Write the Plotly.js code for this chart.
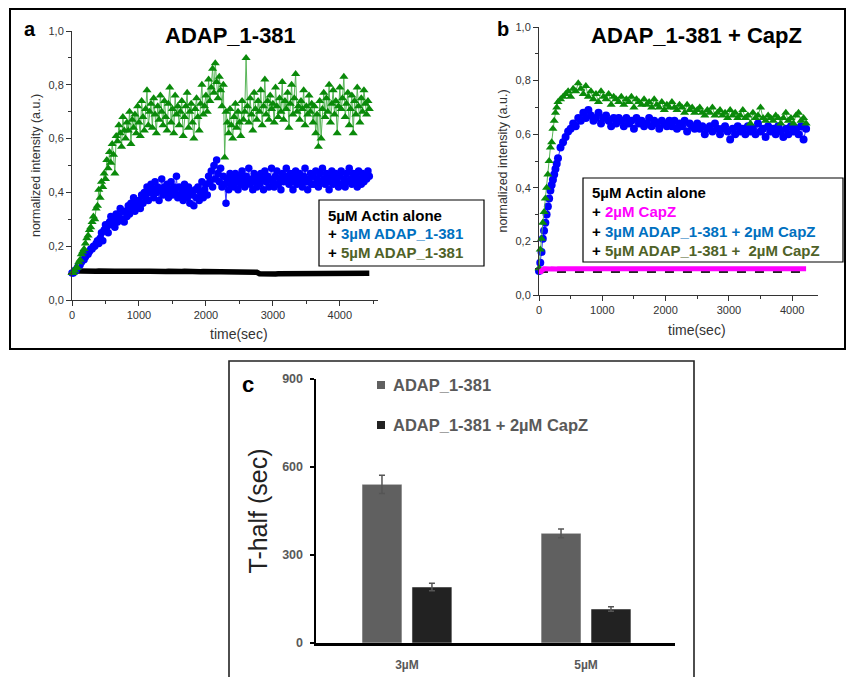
<!DOCTYPE html>
<html>
<head>
<meta charset="utf-8">
<script src="https://cdn.plot.ly/plotly-3.0.1.min.js"></script>
<style>html,body{margin:0;padding:0;background:#fff}#chart{width:847px;height:677px}</style>
</head>
<body>
<div id="chart"></div>
<script>
// ---------- Panel a data (time in seconds) ----------
const timeActinA = [
  0,40,80,120,160,200,240,280,320,360,
  400,440,480,520,560,600,640,680,720,760,
  800,840,880,920,960,1000,1040,1080,1120,1160,
  1200,1240,1280,1320,1360,1400,1440,1480,1520,1560,
  1600,1640,1680,1720,1760,1800,1840,1880,1920,1960,
  2000,2040,2080,2120,2160,2200,2240,2280,2320,2360,
  2400,2440,2480,2520,2560,2600,2640,2680,2720,2760,
  2800,2840,2880,2920,2960,3000,3040,3080,3120,3160,
  3200,3240,3280,3320,3360,3400,3440,3480,3520,3560,
  3600,3640,3680,3720,3760,3800,3840,3880,3920,3960,
  4000,4040,4080,4120,4160,4200,4240,4280,4320,4360,
  4400,4440];
const actinAloneA = [
  0.100,0.106,0.108,0.108,0.107,0.108,0.107,0.108,0.108,0.107,
  0.108,0.107,0.108,0.107,0.107,0.108,0.107,0.107,0.108,0.107,
  0.107,0.108,0.107,0.107,0.106,0.107,0.107,0.106,0.107,0.107,
  0.106,0.107,0.106,0.107,0.106,0.106,0.107,0.106,0.106,0.107,
  0.106,0.106,0.107,0.106,0.106,0.105,0.106,0.106,0.105,0.106,
  0.106,0.105,0.106,0.105,0.106,0.105,0.106,0.105,0.105,0.106,
  0.106,0.106,0.105,0.106,0.105,0.106,0.105,0.105,0.104,0.103,
  0.098,0.097,0.098,0.097,0.098,0.098,0.097,0.098,0.098,0.097,
  0.098,0.097,0.098,0.098,0.097,0.098,0.098,0.097,0.098,0.098,
  0.097,0.098,0.098,0.097,0.098,0.098,0.099,0.098,0.098,0.099,
  0.098,0.099,0.098,0.099,0.099,0.098,0.099,0.099,0.100,0.099,
  0.100,0.099];
const timeA = [
  0,20,40,60,80,100,120,140,160,180,
  200,220,240,260,280,300,320,340,360,380,
  400,420,440,460,480,500,520,540,560,580,
  600,620,640,660,680,700,720,740,760,780,
  800,820,840,860,880,900,920,940,960,980,
  1000,1020,1040,1060,1080,1100,1120,1140,1160,1180,
  1200,1220,1240,1260,1280,1300,1320,1340,1360,1380,
  1400,1420,1440,1460,1480,1500,1520,1540,1560,1580,
  1600,1620,1640,1660,1680,1700,1720,1740,1760,1780,
  1800,1820,1840,1860,1880,1900,1920,1940,1960,1980,
  2000,2020,2040,2060,2080,2100,2120,2140,2160,2180,
  2200,2220,2240,2260,2280,2300,2320,2340,2360,2380,
  2400,2420,2440,2460,2480,2500,2520,2540,2560,2580,
  2600,2620,2640,2660,2680,2700,2720,2740,2760,2780,
  2800,2820,2840,2860,2880,2900,2920,2940,2960,2980,
  3000,3020,3040,3060,3080,3100,3120,3140,3160,3180,
  3200,3220,3240,3260,3280,3300,3320,3340,3360,3380,
  3400,3420,3440,3460,3480,3500,3520,3540,3560,3580,
  3600,3620,3640,3660,3680,3700,3720,3740,3760,3780,
  3800,3820,3840,3860,3880,3900,3920,3940,3960,3980,
  4000,4020,4040,4060,4080,4100,4120,4140,4160,4180,
  4200,4220,4240,4260,4280,4300,4320,4340,4360,4380,
  4400,4420,4440];
const adap3A = [
  0.10,0.10,0.11,0.11,0.12,0.13,0.13,0.14,0.15,0.15,
  0.16,0.17,0.17,0.18,0.19,0.19,0.20,0.20,0.21,0.22,
  0.21,0.23,0.25,0.22,0.26,0.28,0.27,0.25,0.29,0.31,
  0.28,0.30,0.27,0.32,0.29,0.31,0.34,0.30,0.33,0.29,
  0.33,0.31,0.35,0.32,0.36,0.34,0.38,0.33,0.36,0.35,
  0.37,0.34,0.39,0.36,0.40,0.38,0.42,0.37,0.40,0.43,
  0.41,0.38,0.44,0.40,0.42,0.37,0.41,0.45,0.39,0.42,
  0.40,0.43,0.38,0.41,0.44,0.39,0.42,0.40,0.46,0.38,
  0.42,0.39,0.41,0.37,0.43,0.40,0.38,0.42,0.36,0.40,
  0.39,0.35,0.41,0.38,0.42,0.37,0.40,0.44,0.38,0.41,
  0.43,0.39,0.46,0.44,0.48,0.42,0.50,0.45,0.52,0.47,
  0.44,0.49,0.42,0.46,0.43,0.36,0.45,0.41,0.47,0.43,
  0.45,0.42,0.47,0.44,0.41,0.46,0.43,0.48,0.45,0.42,
  0.46,0.44,0.49,0.43,0.45,0.41,0.47,0.44,0.42,0.46,
  0.43,0.47,0.45,0.41,0.48,0.44,0.46,0.42,0.45,0.49,
  0.44,0.42,0.46,0.48,0.43,0.45,0.41,0.47,0.44,0.46,
  0.49,0.45,0.43,0.47,0.44,0.41,0.46,0.48,0.43,0.45,
  0.47,0.44,0.42,0.46,0.49,0.44,0.41,0.45,0.47,0.43,
  0.46,0.43,0.48,0.45,0.42,0.47,0.44,0.49,0.45,0.43,
  0.47,0.44,0.41,0.46,0.48,0.43,0.45,0.47,0.44,0.42,
  0.46,0.48,0.43,0.45,0.42,0.47,0.44,0.49,0.45,0.43,
  0.47,0.44,0.46,0.42,0.48,0.45,0.43,0.47,0.44,0.46,
  0.45,0.48,0.46];
const adap5A = [
  0.10,0.10,0.11,0.12,0.12,0.14,0.15,0.17,0.18,0.19,
  0.21,0.23,0.24,0.26,0.27,0.29,0.31,0.30,0.34,0.35,
  0.41,0.38,0.44,0.42,0.47,0.45,0.52,0.49,0.55,0.51,
  0.58,0.54,0.47,0.61,0.59,0.65,0.62,0.57,0.68,0.63,
  0.60,0.66,0.63,0.70,0.58,0.67,0.64,0.69,0.62,0.72,
  0.66,0.61,0.74,0.68,0.63,0.71,0.78,0.65,0.70,0.73,
  0.64,0.75,0.69,0.62,0.72,0.67,0.76,0.70,0.65,0.74,
  0.68,0.63,0.73,0.79,0.66,0.71,0.62,0.76,0.69,0.72,
  0.65,0.70,0.74,0.61,0.68,0.72,0.77,0.64,0.70,0.73,
  0.66,0.60,0.71,0.75,0.68,0.63,0.73,0.80,0.69,0.72,
  0.76,0.70,0.82,0.74,0.79,0.86,0.77,0.88,0.81,0.75,
  0.83,0.78,0.72,0.80,0.53,0.70,0.66,0.62,0.71,0.65,
  0.60,0.68,0.73,0.64,0.70,0.66,0.61,0.74,0.67,0.70,
  0.90,0.72,0.66,0.75,0.69,0.63,0.77,0.71,0.67,0.74,
  0.70,0.78,0.65,0.72,0.82,0.69,0.74,0.67,0.76,0.71,
  0.73,0.66,0.79,0.72,0.68,0.75,0.70,0.81,0.67,0.74,
  0.71,0.77,0.64,0.73,0.80,0.69,0.75,0.84,0.70,0.72,
  0.67,0.74,0.71,0.78,0.65,0.72,0.69,0.76,0.70,0.73,
  0.66,0.72,0.62,0.69,0.57,0.74,0.60,0.71,0.77,0.68,
  0.75,0.70,0.80,0.66,0.73,0.78,0.69,0.74,0.62,0.72,
  0.79,0.71,0.75,0.83,0.68,0.73,0.77,0.65,0.71,0.76,
  0.62,0.74,0.69,0.79,0.72,0.66,0.75,0.70,0.78,0.73,
  0.69,0.74,0.71];

// ---------- Panel b data ----------
const timeB = [
  0,20,40,60,80,100,120,140,160,180,
  200,220,240,260,280,300,340,380,420,460,
  500,540,580,620,660,700,740,780,820,860,
  900,940,980,1020,1060,1100,1140,1180,1220,1260,
  1300,1340,1380,1420,1460,1500,1540,1580,1620,1660,
  1700,1740,1780,1820,1860,1900,1940,1980,2020,2060,
  2100,2140,2180,2220,2260,2300,2340,2380,2420,2460,
  2500,2540,2580,2620,2660,2700,2740,2780,2820,2860,
  2900,2940,2980,3020,3060,3100,3140,3180,3220,3260,
  3300,3340,3380,3420,3460,3500,3540,3580,3620,3660,
  3700,3740,3780,3820,3860,3900,3940,3980,4020,4060,
  4100,4140,4180,4220];
const actinAloneB = [
  0.088,0.087,0.088,0.087,0.088,0.088,0.087,0.088,0.088,0.087,
  0.088,0.087,0.088,0.088,0.087,0.088,0.088,0.087,0.088,0.088,
  0.087,0.088,0.088,0.087,0.088,0.088,0.087,0.088,0.088,0.087,
  0.088,0.087,0.088,0.088,0.087,0.088,0.088,0.087,0.088,0.088,
  0.087,0.088,0.088,0.087,0.088,0.088,0.087,0.088,0.088,0.087,
  0.088,0.087,0.088,0.088,0.087,0.088,0.088,0.087,0.088,0.088,
  0.087,0.088,0.088,0.087,0.088,0.088,0.087,0.088,0.088,0.087,
  0.088,0.087,0.088,0.088,0.087,0.088,0.088,0.087,0.088,0.088,
  0.087,0.088,0.088,0.087,0.088,0.088,0.087,0.088,0.088,0.087,
  0.088,0.087,0.088,0.088,0.087,0.088,0.088,0.087,0.088,0.088,
  0.087,0.088,0.088,0.087,0.088,0.088,0.087,0.088,0.088,0.087,
  0.088,0.087,0.088,0.088];
const capzB = [
  0.095,0.082,0.090,0.096,0.098,0.098,0.097,0.098,0.098,0.097,
  0.098,0.097,0.098,0.098,0.097,0.098,0.098,0.097,0.098,0.098,
  0.097,0.098,0.098,0.097,0.098,0.098,0.097,0.098,0.098,0.097,
  0.098,0.097,0.098,0.098,0.097,0.098,0.098,0.097,0.098,0.098,
  0.097,0.098,0.098,0.097,0.098,0.098,0.097,0.098,0.098,0.097,
  0.098,0.097,0.098,0.098,0.097,0.098,0.098,0.097,0.098,0.098,
  0.097,0.098,0.098,0.097,0.098,0.098,0.097,0.098,0.098,0.097,
  0.098,0.097,0.098,0.098,0.097,0.098,0.098,0.097,0.098,0.098,
  0.097,0.098,0.098,0.097,0.098,0.098,0.097,0.098,0.098,0.097,
  0.098,0.097,0.098,0.098,0.097,0.098,0.098,0.097,0.098,0.098,
  0.097,0.098,0.098,0.097,0.098,0.098,0.097,0.098,0.098,0.097,
  0.098,0.097,0.098,0.098];
const adap3CapzB = [
  0.09,0.12,0.16,0.21,0.24,0.27,0.30,0.33,0.36,0.39,
  0.41,0.43,0.45,0.47,0.49,0.51,0.55,0.57,0.59,0.61,
  0.62,0.64,0.63,0.66,0.65,0.68,0.66,0.69,0.67,0.65,
  0.66,0.68,0.64,0.66,0.67,0.65,0.63,0.66,0.64,0.66,
  0.65,0.63,0.66,0.64,0.65,0.62,0.66,0.64,0.65,0.63,
  0.64,0.66,0.63,0.65,0.64,0.62,0.65,0.64,0.63,0.65,
  0.63,0.65,0.62,0.64,0.63,0.65,0.61,0.64,0.63,0.62,
  0.64,0.62,0.63,0.60,0.62,0.63,0.61,0.64,0.62,0.60,
  0.62,0.63,0.61,0.58,0.62,0.60,0.63,0.61,0.62,0.60,
  0.63,0.61,0.62,0.60,0.64,0.61,0.62,0.59,0.63,0.61,
  0.62,0.60,0.63,0.61,0.59,0.62,0.60,0.63,0.61,0.62,
  0.60,0.63,0.58,0.62];
const adap5CapzB = [
  0.10,0.17,0.21,0.27,0.31,0.36,0.40,0.45,0.50,0.55,
  0.57,0.62,0.65,0.68,0.70,0.72,0.73,0.74,0.75,0.76,
  0.74,0.77,0.76,0.79,0.77,0.75,0.78,0.74,0.76,0.73,
  0.75,0.72,0.76,0.74,0.73,0.75,0.71,0.74,0.73,0.72,
  0.74,0.71,0.73,0.72,0.74,0.70,0.73,0.72,0.71,0.73,
  0.71,0.72,0.70,0.73,0.71,0.70,0.72,0.69,0.71,0.70,
  0.72,0.70,0.69,0.71,0.70,0.68,0.71,0.69,0.70,0.68,
  0.69,0.70,0.68,0.67,0.69,0.68,0.70,0.67,0.68,0.69,
  0.67,0.68,0.66,0.69,0.67,0.68,0.66,0.67,0.69,0.66,
  0.67,0.64,0.68,0.66,0.67,0.70,0.66,0.65,0.67,0.66,
  0.65,0.67,0.66,0.64,0.66,0.68,0.65,0.66,0.64,0.67,
  0.68,0.65,0.66,0.64];

// ---------- Panel c data ----------
const concCategories = ['3µM','5µM'];
const thalfAdap = [541, 374];
const thalfAdapErr = [31, 15];
const thalfAdapCapz = [191, 116];
const thalfAdapCapzErr = [13, 8];

// ---------- Tick labels ----------
const timeTickVals = [0,1000,2000,3000,4000];
const timeTickText = ['0','1000','2000','3000','4000'];
const intTickVals = [0,0.2,0.4,0.6,0.8,1.0];
const intTickText = ['0,0','0,2','0,4','0,6','0,8','1,0'];
const thalfTickVals = [0,300,600,900];
const thalfTickText = ['0','300','600','900'];

// ---------- helpers for pixel placement ----------
const W = 847, H = 677;
const X = p => p / W;
const Y = p => 1 - p / H;
const FONT = 'Arial, "Liberation Sans", sans-serif';

const traces = [
  {x: timeActinA, y: actinAloneA, xaxis:'x', yaxis:'y', mode:'lines', line:{color:'#000', width:5.5}, cliponaxis:false},
  {x: timeA, y: adap3A, xaxis:'x', yaxis:'y', mode:'lines+markers',
   line:{color:'#3a3aff', width:1}, marker:{symbol:'circle', size:7.5, color:'#0000ff'}, cliponaxis:false},
  {x: timeA, y: adap5A, xaxis:'x', yaxis:'y', mode:'lines+markers',
   line:{color:'#59b559', width:1}, marker:{symbol:'triangle-up', size:8, color:'#0a8a0a'}, cliponaxis:false},

  {x: timeB, y: actinAloneB, xaxis:'x2', yaxis:'y2', mode:'lines', line:{color:'#222', width:3, dash:'dash'}, cliponaxis:false},
  {x: timeB, y: adap3CapzB, xaxis:'x2', yaxis:'y2', mode:'lines+markers',
   line:{color:'#3a3aff', width:1}, marker:{symbol:'circle', size:8, color:'#0000ff'}, cliponaxis:false},
  {x: timeB, y: adap5CapzB, xaxis:'x2', yaxis:'y2', mode:'lines+markers',
   line:{color:'#59b559', width:1}, marker:{symbol:'triangle-up', size:8, color:'#0a8a0a'}, cliponaxis:false},
  {x: timeB, y: capzB, xaxis:'x2', yaxis:'y2', mode:'lines', line:{color:'#ff00ff', width:5}, cliponaxis:false},

  {type:'bar', x: concCategories, y: thalfAdap, xaxis:'x3', yaxis:'y3', width:0.223, offset:-0.251,
   marker:{color:'#606060', line:{color:'#ffffff', width:0.5}},
   error_y:{type:'data', array: thalfAdapErr, visible:true, color:'#555', thickness:1.5, width:3}},
  {type:'bar', x: concCategories, y: thalfAdapCapz, xaxis:'x3', yaxis:'y3', width:0.223, offset:0.028,
   marker:{color:'#222222', line:{color:'#ffffff', width:0.5}},
   error_y:{type:'data', array: thalfAdapCapzErr, visible:true, color:'#555', thickness:1.5, width:3}}
];

const tsAxis = {
  showline:true, linecolor:'#333', linewidth:1, ticks:'outside', ticklen:5, tickwidth:1, tickcolor:'#333',
  showgrid:false, zeroline:false, tickfont:{family:FONT, size:11, color:'#333'}
};

const layout = {
  width:W, height:H, margin:{l:0,r:0,t:0,b:0}, paper_bgcolor:'#fff', plot_bgcolor:'rgba(0,0,0,0)',
  showlegend:false, barmode:'overlay', font:{family:FONT},
  xaxis: Object.assign({}, tsAxis, {domain:[X(72), X(378)], range:[0,4570], anchor:'y',
    tickmode:'array', tickvals:timeTickVals, ticktext:timeTickText,
    minor:{tickmode:'linear', tick0:0, dtick:500, ticks:'outside', ticklen:3, tickcolor:'#333'}}),
  yaxis: Object.assign({}, tsAxis, {domain:[Y(300), Y(31)], range:[0,1], anchor:'x',
    tickmode:'array', tickvals:intTickVals, ticktext:intTickText,
    minor:{tickmode:'linear', tick0:0, dtick:0.1, ticks:'outside', ticklen:3, tickcolor:'#333'},
    title:{text:'normalized intensity (a.u.)', font:{family:FONT, size:12.5, color:'#333'}, standoff:5}}),
  xaxis2: Object.assign({}, tsAxis, {domain:[X(539), X(818)], range:[0,4408], anchor:'y2',
    tickmode:'array', tickvals:timeTickVals, ticktext:timeTickText,
    minor:{tickmode:'linear', tick0:0, dtick:500, ticks:'outside', ticklen:3, tickcolor:'#333'}}),
  yaxis2: Object.assign({}, tsAxis, {domain:[Y(295), Y(27)], range:[0,1], anchor:'x2',
    tickmode:'array', tickvals:intTickVals, ticktext:intTickText,
    minor:{tickmode:'linear', tick0:0, dtick:0.1, ticks:'outside', ticklen:3, tickcolor:'#333'},
    title:{text:'normalized intensity (a.u.)', font:{family:FONT, size:12.5, color:'#333'}, standoff:5}}),
  xaxis3: {domain:[X(316), X(675)], range:[-0.508, 1.497], type:'category', anchor:'y3',
    showline:true, linecolor:'#000', linewidth:2.5, ticks:'', showgrid:false, zeroline:false,
    ticklabelstandoff:9,
    tickfont:{family:FONT, size:12, color:'#595959', weight:'bold'}},
  yaxis3: {domain:[Y(643), Y(379)], range:[0,900], anchor:'x3',
    showline:true, linecolor:'#000', linewidth:2.5, ticks:'outside', ticklen:4, tickwidth:1.5, tickcolor:'#000',
    showgrid:false, zeroline:false, tickmode:'array', tickvals:thalfTickVals, ticktext:thalfTickText,
    ticklabelstandoff:4,
    tickfont:{family:FONT, size:12.5, color:'#595959', weight:'bold'},
    title:{text:'T-half (sec)', font:{family:FONT, size:25, color:'#222'}, standoff:8}},
  shapes: [
    {type:'rect', xref:'paper', yref:'paper', x0:X(10), x1:X(845), y0:Y(349), y1:Y(9), line:{color:'#000', width:2}, layer:'below'},
    {type:'rect', xref:'paper', yref:'paper', x0:X(229), x1:X(694), y0:Y(690), y1:Y(361), line:{color:'#222', width:1.6}, layer:'below'},
    {type:'rect', xref:'paper', yref:'paper', x0:X(319), x1:X(484), y0:Y(266), y1:Y(200), line:{color:'#000', width:1.2}, fillcolor:'#fff', layer:'above'},
    {type:'rect', xref:'paper', yref:'paper', x0:X(583), x1:X(843), y0:Y(262), y1:Y(178), line:{color:'#000', width:1.2}, fillcolor:'#fff', layer:'above'},
    {type:'rect', xref:'paper', yref:'paper', x0:X(377), x1:X(385), y0:Y(389), y1:Y(381), line:{width:0}, fillcolor:'#606060', layer:'above'},
    {type:'rect', xref:'paper', yref:'paper', x0:X(377), x1:X(385), y0:Y(429), y1:Y(421), line:{width:0}, fillcolor:'#222222', layer:'above'}
  ],
  annotations: []
};

function ann(text, px, py, opts) {
  layout.annotations.push(Object.assign({
    text:text, xref:'paper', yref:'paper', x:X(px), y:Y(py), showarrow:false,
    xanchor:'center', yanchor:'middle', font:{family:FONT, size:14, color:'#000'}
  }, opts || {}));
}
// panel letters and titles
ann('<b>a</b>', 30, 29, {font:{family:FONT, size:20, color:'#000'}});
ann('<b>b</b>', 503, 29, {font:{family:FONT, size:20, color:'#000'}});
ann('<b>c</b>', 248, 384, {font:{family:FONT, size:22, color:'#000'}});
ann('<b>ADAP_1-381</b>', 231, 36, {font:{family:FONT, size:22, color:'#000'}});
ann('<b>ADAP_1-381 + CapZ</b>', 696, 36, {font:{family:FONT, size:22, color:'#000'}});
// x-axis titles
ann('time(sec)', 239, 334, {font:{family:FONT, size:14, color:'#333'}});
ann('time(sec)', 697, 330, {font:{family:FONT, size:14, color:'#333'}});
// legend a
const lf = {family:FONT, size:15, color:'#000'};
ann('<b>5µM Actin alone</b>', 326, 215, {xanchor:'left', font:lf});
ann('<b>+ <span style="color:#0070C0">3µM ADAP_1-381</span></b>', 326, 234, {xanchor:'left', font:lf});
ann('<b>+ <span style="color:#4F6228">5µM ADAP_1-381</span></b>', 326, 253, {xanchor:'left', font:lf});
// legend b
ann('<b>5µM Actin alone</b>', 590, 192, {xanchor:'left', font:lf});
ann('<b>+ <span style="color:#FF00FF">2µM CapZ</span></b>', 590, 212, {xanchor:'left', font:lf});
ann('<b>+ <span style="color:#0070C0">3µM ADAP_1-381 + 2µM CapZ</span></b>', 590, 231, {xanchor:'left', font:lf});
ann('<b>+ <span style="color:#4F6228">5µM ADAP_1-381 +  2µM CapZ</span></b>', 590, 250, {xanchor:'left', font:lf});
// legend c
const lc = {family:FONT, size:16.5, color:'#595959'};
ann('<b>ADAP_1-381</b>', 391, 385, {xanchor:'left', font:lc});
ann('<b>ADAP_1-381 + 2µM CapZ</b>', 391, 425, {xanchor:'left', font:lc});

Plotly.newPlot('chart', traces, layout, {staticPlot:true, displayModeBar:false});
</script>
</body>
</html>
